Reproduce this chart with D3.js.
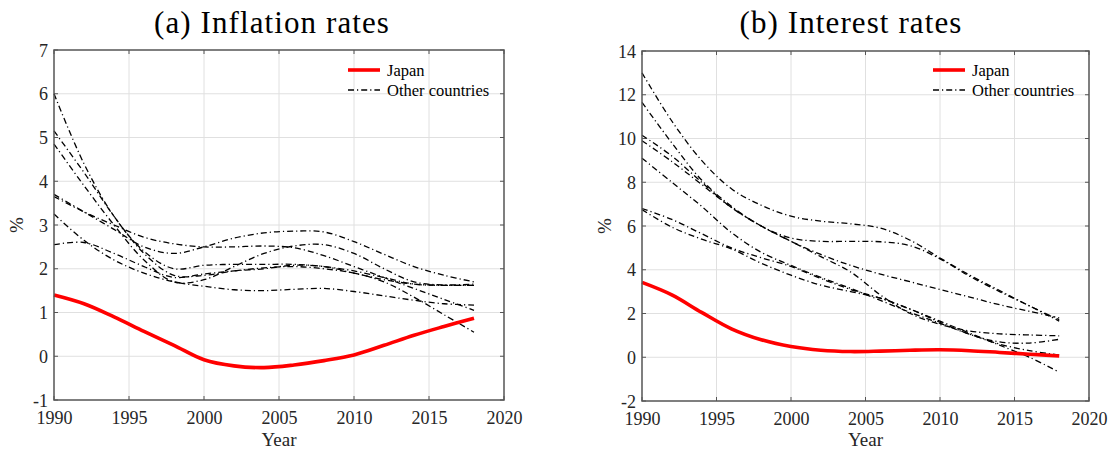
<!DOCTYPE html>
<html><head><meta charset="utf-8">
<script src="https://cdn.jsdelivr.net/npm/d3@7"></script>
<style>body{margin:0;background:#fff}svg{display:block}</style>
</head><body><svg id="c" width="1115" height="454"></svg>
<script>
const years = [1990,1992,1994,1996,1998,2000,2002,2004,2006,2008,2010,2012,2014,2016,2018];
const xTicks = [1990,1995,2000,2005,2010,2015,2020];
const inflTicks = [-1,0,1,2,3,4,5,6,7];
const rateTicks = [-2,0,2,4,6,8,10,12,14];

const japanInflation = [1.4,1.2,0.9,0.57,0.25,-0.08,-0.22,-0.26,-0.2,-0.1,0.03,0.25,0.48,0.68,0.87];
const otherInflation = [
  [3.7,3.3,2.9,2.5,2.35,2.5,2.7,2.82,2.86,2.84,2.62,2.33,2.05,1.85,1.7],
  [3.65,3.3,3.0,2.72,2.57,2.5,2.5,2.52,2.48,2.3,2.05,1.8,1.55,1.3,1.05],
  [4.85,3.9,3.0,2.2,1.7,1.75,2.05,2.35,2.52,2.55,2.35,2.0,1.7,1.63,1.65],
  [6.0,4.4,3.2,2.4,2.0,2.08,2.1,2.1,2.1,2.05,1.95,1.8,1.65,1.62,1.62],
  [5.15,4.2,3.2,2.35,1.85,1.85,1.95,2.02,2.05,2.0,1.9,1.7,1.35,0.95,0.55],
  [3.25,2.65,2.2,1.9,1.7,1.6,1.52,1.5,1.53,1.55,1.48,1.38,1.28,1.2,1.17],
  [2.55,2.6,2.35,2.05,1.8,1.88,1.95,2.0,2.08,2.05,1.9,1.75,1.65,1.62,1.62]
];
const japanRate = [3.42,2.85,2.05,1.3,0.8,0.49,0.32,0.26,0.28,0.32,0.34,0.3,0.22,0.14,0.06];
const otherRate = [
  [13.0,10.8,9.0,7.7,6.95,6.45,6.22,6.1,5.9,5.35,4.54,3.75,3.05,2.35,1.72],
  [11.65,9.8,8.1,6.9,6.0,5.45,5.3,5.3,5.28,5.1,4.5,3.7,3.0,2.35,1.65],
  [10.15,9.2,8.0,6.85,6.0,5.3,4.7,4.2,3.8,3.45,3.1,2.75,2.4,2.1,1.8],
  [9.9,8.95,7.9,6.85,6.0,5.3,4.6,3.9,2.85,2.0,1.5,1.2,1.07,1.02,0.98],
  [9.1,8.0,6.9,5.7,4.8,4.2,3.65,3.15,2.6,2.05,1.55,1.05,0.6,0.3,0.1],
  [6.8,6.3,5.65,5.0,4.55,4.15,3.6,3.1,2.7,2.2,1.65,1.1,0.55,0.0,-0.68],
  [6.75,5.95,5.4,4.95,4.3,3.75,3.3,3.0,2.7,2.2,1.6,1.05,0.7,0.65,0.82]
];
const titles = ["(a) Inflation rates","(b) Interest rates"];
const legendLabels = ["Japan","Other countries"];

const FONT = "'Liberation Serif','DejaVu Serif','Times New Roman',serif";
const svg = d3.select("#c").attr("font-family",FONT);
const DASH = "6,3,1.2,3";

function panel(cfg){
  const {x0,x1,y0,y1,yDomain,yTicks,japan,others,title,titleX} = cfg;
  const x = d3.scaleLinear().domain([1990,2020]).range([x0,x1]);
  const y = d3.scaleLinear().domain(yDomain).range([y1,y0]);
  const g = svg.append("g").attr("font-family",FONT);
  g.selectAll(".gx").data(xTicks.slice(1,-1)).join("line")
    .attr("x1",d=>x(d)).attr("x2",d=>x(d)).attr("y1",y0).attr("y2",y1)
    .attr("stroke","#e0e0e0").attr("stroke-width",1);
  g.selectAll(".gy").data(yTicks.slice(1,-1)).join("line")
    .attr("y1",d=>y(d)).attr("y2",d=>y(d)).attr("x1",x0).attr("x2",x1)
    .attr("stroke","#e0e0e0").attr("stroke-width",1);
  const ax = d3.axisBottom(x).tickValues(xTicks).tickSize(0).tickPadding(0).tickFormat(d=>String(d));
  const axg = g.append("g").attr("transform",`translate(0,${y1})`).call(ax).attr("font-family",FONT).attr("font-size",18);
  axg.select(".domain").remove();
  axg.selectAll("text").attr("dy",null).attr("y",24).attr("fill","#262626").attr("font-family",FONT);
  const ay = d3.axisLeft(y).tickValues(yTicks).tickSize(0).tickPadding(0).tickFormat(d=>String(d));
  const ayg = g.append("g").attr("transform",`translate(${x0},0)`).call(ay).attr("font-family",FONT).attr("font-size",18);
  ayg.select(".domain").remove();
  ayg.selectAll("text").attr("x",-6).attr("dy","0.34em").attr("fill","#262626").attr("font-family",FONT);
  const tl = 4;
  xTicks.forEach(t=>{
    g.append("line").attr("x1",x(t)).attr("x2",x(t)).attr("y1",y1).attr("y2",y1-tl).attr("stroke","#555");
    g.append("line").attr("x1",x(t)).attr("x2",x(t)).attr("y1",y0).attr("y2",y0+tl).attr("stroke","#555");
  });
  yTicks.forEach(t=>{
    g.append("line").attr("y1",y(t)).attr("y2",y(t)).attr("x1",x0).attr("x2",x0+tl).attr("stroke","#555");
    g.append("line").attr("y1",y(t)).attr("y2",y(t)).attr("x1",x1).attr("x2",x1-tl).attr("stroke","#555");
  });
  const line = d3.line().x((d,i)=>x(years[i])).y(d=>y(d)).curve(d3.curveCatmullRom.alpha(0.5));
  g.selectAll(".o").data(others).join("path").attr("d",line)
    .attr("fill","none").attr("stroke","#000").attr("stroke-width",1.3).attr("stroke-dasharray",DASH);
  g.append("path").datum(japan).attr("d",line).attr("fill","none").attr("stroke","#ff0000").attr("stroke-width",3.6);
  g.append("rect").attr("x",x0).attr("y",y0).attr("width",x1-x0).attr("height",y1-y0)
    .attr("fill","none").attr("stroke","#555").attr("stroke-width",1.5);
  g.append("text").attr("x",titleX).attr("y",33).attr("text-anchor","middle")
    .attr("font-size",31).attr("letter-spacing",1.1).attr("fill","#000").text(title);
  g.append("text").attr("x",(x0+x1)/2).attr("y",446).attr("text-anchor","middle").attr("font-size",19).attr("fill","#262626").text("Year");
  g.append("text").attr("transform",`translate(${x0-31},${(y0+y1)/2}) rotate(-90)`).attr("text-anchor","middle")
    .attr("font-size",19).attr("fill","#262626").text("%");
  const lx = x1 - 156, ly = 70;
  g.append("line").attr("x1",lx).attr("x2",lx+32).attr("y1",ly).attr("y2",ly).attr("stroke","#ff0000").attr("stroke-width",3.6);
  g.append("line").attr("x1",lx).attr("x2",lx+32).attr("y1",ly+20).attr("y2",ly+20).attr("stroke","#000").attr("stroke-width",1.3).attr("stroke-dasharray",DASH);
  g.append("text").attr("x",lx+39).attr("y",ly+5.5).attr("font-size",16.5).attr("fill","#000").text(legendLabels[0]);
  g.append("text").attr("x",lx+39).attr("y",ly+25.5).attr("font-size",16.5).attr("fill","#000").text(legendLabels[1]);
}

panel({x0:54,x1:504,y0:50,y1:400,yDomain:[-1,7],yTicks:inflTicks,japan:japanInflation,others:otherInflation,title:titles[0],titleX:272});
panel({x0:642,x1:1089,y0:51,y1:401,yDomain:[-2,14],yTicks:rateTicks,japan:japanRate,others:otherRate,title:titles[1],titleX:851});
</script></body></html>
